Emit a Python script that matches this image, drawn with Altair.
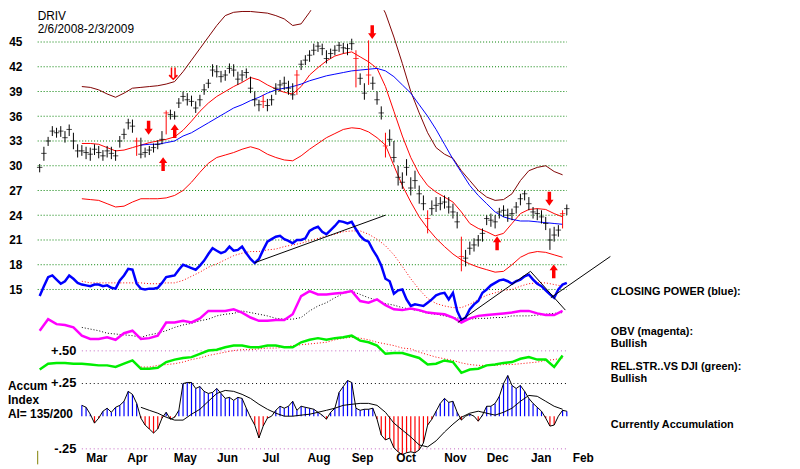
import altair as alt
import pandas as pd

TICKER = "DRIV"
PERIOD = "2/6/2008-2/3/2009"
FIRST_DAY = "2008-02-06"
LAST_DAY = "2009-02-03"

# daily bars sampled every 2nd session (price)
CLOSE = [29.8,31.5,33.0,34.2,34.0,34.2,33.4,34.4,33.0,31.8,
         31.8,31.6,31.4,32.0,31.6,31.2,31.8,31.5,31.2,33.0,
         33.8,35.2,34.8,33.0,31.4,31.6,31.9,32.2,32.6,33.2,
         36.4,36.2,36.0,37.6,38.4,38.0,37.8,37.0,38.0,39.2,
         40.0,41.6,41.4,40.8,41.0,41.8,41.6,40.5,41.0,41.3,
         39.4,38.0,37.4,37.8,37.3,38.0,39.4,39.8,40.0,39.4,
         38.6,41.0,42.3,42.8,43.4,44.0,44.5,44.2,43.0,43.6,
         44.0,44.6,44.3,44.2,44.8,43.0,40.6,38.8,41.0,40.0,
         38.0,36.4,32.4,33.2,31.0,28.6,28.0,29.8,27.3,28.2,
         26.6,25.4,23.6,24.8,25.2,25.4,25.6,25.0,24.4,23.2,
         19.0,18.8,20.0,20.4,21.0,21.8,23.6,23.4,23.2,24.4,
         24.6,24.0,24.2,25.0,26.0,26.6,25.4,24.4,24.2,23.8,
         23.0,21.0,21.6,22.2,24.2,24.8]
HIGH = [30.2,32.3,33.5,34.8,34.6,34.8,34.2,35.0,34.0,32.6,
        32.5,32.3,32.2,32.6,32.4,31.9,32.4,32.3,31.9,33.6,
        34.5,35.7,35.6,33.4,33.4,32.2,32.4,32.7,33.1,34.2,
        36.7,36.8,36.6,38.2,39.0,38.8,38.5,37.8,38.6,39.9,
        40.5,42.3,42.2,41.5,41.6,42.4,42.3,41.4,41.6,41.8,
        40.8,39.0,38.0,38.6,38.1,38.6,40.0,40.4,40.8,40.3,
        40.0,41.6,42.8,43.4,44.0,44.8,45.0,44.8,44.0,44.2,
        44.6,45.0,44.9,44.8,45.4,44.0,41.2,40.0,45.2,40.8,
        39.0,37.2,34.0,34.4,33.0,30.0,29.2,30.8,28.6,29.4,
        27.6,26.4,24.6,25.8,26.2,26.2,26.4,26.2,25.4,24.4,
        21.4,19.8,20.8,21.2,21.6,22.4,24.0,24.2,24.0,24.9,
        25.2,24.8,24.8,25.6,26.6,27.0,26.2,25.0,24.8,24.6,
        23.8,22.4,22.6,22.8,24.6,25.3]
LOW = [29.2,30.6,32.4,33.6,33.4,33.5,32.8,33.6,32.0,31.0,
       31.2,30.8,30.6,31.3,30.9,30.6,31.0,30.8,30.6,32.2,
       33.2,34.4,34.0,31.2,30.9,31.0,31.3,31.6,32.0,32.6,
       33.8,35.6,35.6,37.0,37.8,37.3,37.2,36.4,37.2,38.6,
       39.4,40.8,40.7,40.1,40.3,41.2,40.8,39.8,40.2,40.6,
       38.8,37.2,36.6,37.0,36.6,37.3,38.6,39.0,39.2,38.6,
       38.0,38.6,41.6,42.2,42.6,43.4,43.8,43.4,42.4,43.0,
       43.4,43.8,43.6,43.4,44.0,39.5,39.8,38.0,39.8,39.2,
       37.4,35.6,31.0,32.4,30.4,27.6,27.2,28.8,26.4,27.2,
       25.4,24.6,21.8,24.0,24.4,24.6,24.8,24.2,23.6,22.4,
       17.2,17.8,19.2,19.6,20.2,20.8,22.8,22.6,22.4,23.6,
       23.8,23.2,23.4,24.2,25.2,25.8,24.6,23.6,23.4,23.0,
       22.2,19.8,20.8,21.4,22.4,24.0]
RED_BARS = [23, 30, 53, 61, 75, 78, 82, 92, 100, 124]

# smooth series, every 4th session
UPPER_BAND = [None]*5 + [39.6,39.5,39.2,38.7,38.3,38.8,39.4,39.5,39.6,39.7,
    39.9,40.2,41.4,42.8,44.2,45.6,47.0,48.2,48.6,48.7,48.7,48.6,48.5,48.2,47.8,
    47.0,47.2,48.6,50.2,51.5,52.5,53.0,53.0,52.5,51.5,50.5,48.5,45.6,42.4,39.0,
    36.4,34.0,32.2,31.4,30.9,29.4,28.2,27.0,26.2,25.8,25.9,26.6,28.2,29.4,29.8,
    30.0,29.3,28.9]
MID_BAND = [None]*5 + [32.7,32.7,32.6,32.2,31.8,31.9,32.2,32.5,32.8,33.0,
    33.2,33.5,34.3,35.4,36.6,37.6,38.4,39.0,39.6,40.1,40.7,40.4,39.8,39.3,38.9,
    38.7,39.6,41.0,41.9,42.7,43.3,43.6,43.8,43.2,42.6,41.8,39.6,36.6,33.6,31.0,
    29.0,27.6,26.8,26.2,25.6,24.4,23.0,22.4,22.0,21.5,21.8,23.0,24.2,24.7,24.8,
    24.7,24.2,23.8]
LOWER_BAND = [None]*5 + [26.0,25.9,25.8,25.4,25.0,25.1,25.6,26.0,26.0,26.0,
    26.1,26.4,27.0,28.0,29.2,30.3,31.0,31.3,31.6,32.0,32.3,32.0,31.4,31.0,30.7,
    30.6,31.2,32.0,32.7,33.4,33.9,34.4,34.6,34.5,34.1,33.4,32.5,30.0,27.6,25.6,
    23.8,22.4,21.2,20.2,19.3,18.6,18.1,17.7,17.4,17.1,17.2,18.0,18.9,19.4,19.6,
    19.5,19.2,18.9]
MA50 = [None]*12 + [32.5,32.6,32.6,32.8,33.0,33.6,34.0,34.6,35.2,35.8,
    36.4,37.0,37.4,37.9,38.3,38.8,39.2,39.4,39.6,39.9,40.3,40.6,40.9,41.1,41.3,
    41.5,41.6,41.7,41.8,41.5,40.8,39.8,38.8,37.4,36.0,34.4,32.6,30.8,29.2,27.6,
    26.4,25.4,24.4,23.8,23.5,23.3,23.3,23.2,23.1,23.0,22.9]

# Closing Power (blue), drawn in the price panel's units, every 2nd session
CP = [14.2,15.4,16.5,16.7,16.2,15.7,16.0,16.7,16.3,15.8,
      15.6,15.5,15.4,15.6,15.6,15.4,15.5,15.2,15.1,16.1,
      16.7,17.5,17.4,15.7,15.1,15.0,15.1,15.1,15.2,15.8,
      16.5,16.6,16.7,17.4,18.0,17.8,17.6,17.4,17.9,18.5,
      19.3,20.0,19.7,19.4,19.6,20.2,19.7,19.8,20.2,19.4,
      18.7,18.2,18.7,19.8,20.8,21.1,21.4,21.5,21.1,20.9,
      20.6,21.0,21.0,21.2,22.1,22.4,22.6,22.0,21.7,22.2,
      22.7,23.3,23.2,23.0,23.2,22.3,21.5,21.0,20.8,19.8,
      19.0,17.9,16.3,16.0,14.5,14.9,15.0,13.8,13.0,13.2,
      13.1,13.0,13.4,13.8,14.3,14.5,14.6,13.8,14.6,12.4,
      11.3,11.6,12.6,13.2,13.6,14.6,15.0,15.5,15.8,16.1,
      16.2,16.0,15.7,16.0,16.2,16.6,16.8,16.2,15.7,15.4,
      14.9,14.4,14.0,15.0,15.6,15.8]
CP_MA = [None]*5 + [16.0,15.8,15.8,15.8,15.8,15.8,15.8,15.8,15.7,15.7,
    15.8,15.8,16.1,16.6,17.1,17.7,18.1,18.6,19.1,19.4,19.6,19.6,19.8,19.9,20.2,
    20.4,20.6,20.9,21.2,21.5,21.7,22.0,22.1,22.1,21.7,21.1,20.3,19.2,17.8,16.3,
    15.0,13.9,13.3,13.0,12.8,12.8,13.2,13.8,14.3,14.6,14.9,15.0,15.4,15.7,15.8,
    15.8,15.6,15.4]
OBV = [10.0,11.4,10.8,10.7,10.4,9.4,9.0,9.0,9.2,8.9,9.7,10.0,9.0,9.1,9.4,
       11.0,11.0,11.2,11.0,11.5,12.4,12.4,12.4,12.6,12.2,11.6,11.2,11.2,11.3,11.3,
       12.0,14.2,14.8,14.4,14.4,14.5,14.6,14.8,13.6,13.4,13.8,13.1,12.6,12.5,12.7,
       12.5,12.2,12.1,12.0,11.6,11.0,11.5,11.8,11.9,12.0,12.1,12.2,12.4,12.4,12.1,
       11.9,11.9,12.4]
OBV_MA = [None]*5 + [10.4,10.2,10.0,9.7,9.6,9.5,9.4,9.2,9.5,9.7,
    10.0,10.4,10.7,10.9,11.2,11.4,11.8,12.0,12.1,12.4,12.2,12.0,11.8,11.5,11.4,
    11.4,11.6,12.4,13.0,13.4,14.0,14.5,14.8,14.4,14.0,13.7,13.3,13.1,12.8,12.6,
    12.4,12.1,12.0,11.8,11.6,11.5,11.4,11.5,11.5,11.6,11.6,11.8,11.8,11.8,11.9,
    12.0,12.1,12.2]
RS = [5.3,6.0,6.1,6.1,6.0,6.0,5.9,5.8,5.8,5.6,6.0,6.4,5.4,5.4,5.5,
      6.2,6.5,6.7,6.8,7.2,7.6,7.7,8.0,8.2,8.2,8.0,8.0,8.2,8.2,8.0,
      8.0,8.6,8.9,9.1,8.9,9.1,9.2,9.4,8.8,8.6,8.2,7.2,7.3,7.3,7.0,
      6.7,5.9,6.0,6.4,6.2,4.9,5.3,5.4,5.8,5.9,6.1,6.2,6.6,6.8,6.5,
      6.5,5.6,7.0]
RS_MA = [None]*12 + [5.6,5.6,5.8,5.9,6.0,6.2,6.5,6.7,7.0,7.2,
    7.4,7.6,7.7,7.7,7.8,7.9,7.9,8.0,8.2,8.3,8.4,8.5,8.6,8.9,9.1,
    9.2,9.1,8.9,8.6,8.4,8.2,7.9,7.8,7.4,7.1,6.8,6.6,6.4,6.1,5.9,
    5.8,5.8,5.8,5.9,5.9,6.0,6.1,6.2,6.4,6.5,6.7]
# Accumulation index, every 2nd session
AI = [None]*10 + [0.083,0.068,0.015,-0.053,-0.015,0.038,0.061,0.030,0.068,0.083,
      0.114,0.190,0.167,0.098,-0.015,-0.068,-0.098,-0.129,-0.098,-0.015,
      0.030,-0.023,-0.008,0.045,0.250,0.258,0.258,0.212,0.227,0.190,
      0.174,0.182,0.212,0.174,0.136,0.144,0.121,0.144,0.136,0.061,
      -0.008,-0.068,-0.167,-0.076,-0.015,0.000,0.045,0.076,0.061,0.076,
      0.114,0.045,0.076,0.068,0.061,0.053,0.030,0.008,-0.023,0.030,
      0.061,0.182,0.227,0.273,0.258,0.061,0.045,0.053,0.053,0.061,
      -0.023,-0.144,-0.182,-0.167,-0.242,-0.273,-0.295,-0.280,-0.273,-0.280,
      -0.258,-0.205,-0.068,-0.023,0.038,0.098,0.136,0.106,0.114,0.030,
      -0.030,0.000,0.015,0.000,-0.038,0.008,0.076,0.076,0.098,0.152,
      0.250,0.311,0.235,0.212,0.235,0.190,0.136,0.098,0.068,0.038,
      -0.015,-0.076,-0.068,0.000,0.045,0.038]
AI_MA = [None]*12 + [0.068,0.045,0.023,-0.008,-0.030,-0.030,0.015,0.053,0.114,0.174,
    0.197,0.190,0.167,0.136,0.091,0.053,0.023,0.000,0.000,0.008,0.015,0.030,0.045,
    0.061,0.083,0.091,0.098,0.098,0.083,0.030,-0.053,-0.106,-0.159,-0.220,-0.235,
    -0.189,-0.121,-0.061,-0.008,0.023,0.038,0.023,0.008,0.030,0.061,0.114,0.159,
    0.152,0.114,0.076,0.053]

PRICE_GRID = [45, 42, 39, 36, 33, 30, 27, 24, 21, 18, 15]
AI_GRID = [0.50, 0.25, -0.25]
AI_GRID_LABELS = ["+.50", "+.25", "-.25"]
AI_GRID_COLORS = ["#c060c0", "#000000", "#c060c0"]

MONTH_TICKS = ["2008-03-16", "2008-04-13", "2008-05-16", "2008-06-14", "2008-07-14",
               "2008-08-16", "2008-09-15", "2008-10-15", "2008-11-18", "2008-12-17",
               "2009-01-16", "2009-02-14"]

TRENDS = [("a", "2008-07-03", 18.24), ("a", "2008-10-01", 24.0),
          ("b", "2009-01-23", 14.0), ("b", "2009-03-05", 19.0),
          ("c", "2008-11-20", 11.0), ("c", "2009-01-09", 17.2),
          ("d", "2009-01-09", 17.2), ("d", "2009-02-02", 12.5)]

ARROWS = [("2008-04-21", 34.6, "down"), ("2008-05-01", 30.2, "up"),
          ("2008-05-09", 34.2, "up"), ("2008-09-22", 46.2, "down"),
          ("2008-12-17", 20.6, "up"), ("2009-01-22", 26.0, "down"),
          ("2009-01-25", 17.2, "up")]
DOUBLE_ARROWS = [("2008-05-08", 41.2)]

RIGHT_NOTES = [("CLOSING POWER (blue):", 288), ("OBV (magenta):", 328), ("Bullish", 340),
               ("REL.STR..VS DJI (green):", 363), ("Bullish", 375),
               ("Currently Accumulation", 422)]
LEFT_NOTES = [("Accum", 384), ("Index", 398), ("AI= 135/200", 412)]

# ---------------- layout ----------------
FONT = "Liberation Sans"
W, H = 754, 445
PX_PER_DAY = 532.5 / 363.0
FIRST_BAR_OFFSET = 2.0
YMAX, YMIN = 48.84, -4.56
AI_ZERO, AI_SCALE = -0.36, 15.84

DAY_MS = 86400000
def ms(s):
    return int(pd.Timestamp(s).value // 10**6)
def iso(ts):
    return pd.Timestamp(ts).strftime("%Y-%m-%dT%H:%M:%SZ")

x_start = ms(FIRST_DAY) - FIRST_BAR_OFFSET / PX_PER_DAY * DAY_MS
x_end = x_start + W / PX_PER_DAY * DAY_MS

XS = alt.Scale(type="utc", domain=[x_start, x_end], nice=False)
YS = alt.Scale(domain=[YMIN, YMAX], nice=False, zero=False)
XAX = alt.Axis(values=[ms(d) for d in MONTH_TICKS], labelExpr="utcFormat(datum.value, '%b')",
               labelFont=FONT, labelFontSize=12, labelFontWeight="bold", labelColor="black",
               domain=False, ticks=False, tickSize=0, grid=False, labelPadding=2,
               title=None, labelFlush=False, labelOverlap=False)
YAX = alt.Axis(values=PRICE_GRID, labelFont=FONT, labelFontSize=12, labelFontWeight="bold",
               labelColor="black", domain=False, ticks=False, tickSize=0, grid=False,
               labelPadding=16, title=None)

def X(f):
    return alt.X(f, type="temporal", scale=XS, axis=XAX)
def Y(f):
    return alt.Y(f, type="quantitative", scale=YS, axis=YAX)

dates = pd.date_range(FIRST_DAY, LAST_DAY, periods=len(CLOSE))
d1 = [iso(d) for d in dates]
d2 = d1[::2]

bars = pd.DataFrame({"date": d1, "close": CLOSE, "high": HIGH, "low": LOW,
                     "col": ["#ff0000" if i in RED_BARS else "#000000" for i in range(len(CLOSE))]})

def series(dts, vals):
    return pd.DataFrame({"date": dts, "v": vals}).dropna()

layers = []

# grid lines
pg = pd.DataFrame({"p": PRICE_GRID, "x0": iso(pd.Timestamp(x_start, unit="ms")), "x1": d1[-1]})
layers.append(alt.Chart(pg).mark_rule(color="#008000", strokeDash=[1, 2], strokeWidth=1)
              .encode(x=X("x0"), x2="x1", y=Y("p")))
ai_start = d1[next(i for i, v in enumerate(AI) if v is not None)]
ag = pd.DataFrame({"a": AI_GRID, "lab": AI_GRID_LABELS, "c": AI_GRID_COLORS,
                   "x0": ai_start, "x1": d1[-1]})
agc = alt.Chart(ag).transform_calculate(p=f"{AI_ZERO} + {AI_SCALE} * datum.a")
layers.append(agc.mark_rule(strokeDash=[1, 3], strokeWidth=1)
              .encode(x=X("x0"), x2="x1", y=Y("p"), color=alt.Color("c:N", scale=None)))
layers.append(agc.mark_text(font=FONT, fontSize=13, fontWeight="bold", align="right",
                            baseline="middle", color="black")
              .encode(x=alt.value(39), y=Y("p"), text="lab:N"))

def line(dts, vals, color, width=1, dash=None, clip=False):
    kw = dict(color=color, strokeWidth=width, clip=clip)
    if dash:
        kw["strokeDash"] = dash
    return alt.Chart(series(dts, vals)).mark_line(**kw).encode(x=X("date"), y=Y("v"))

layers.append(line(d2, UPPER_BAND, "#800000", clip=True))
layers.append(line(d2, LOWER_BAND, "#ff0000"))
layers.append(line(d2, MID_BAND, "#ff0000"))
layers.append(line(d2, MA50, "#0000ff"))

# indicators
layers.append(line(d2, CP_MA, "#ff0000", dash=[1, 2]))
layers.append(line(d1, CP, "#0000ff", width=2.5))
layers.append(line(d2, OBV_MA, "#000000", dash=[1, 2]))
layers.append(line(d2, OBV, "#ff00ff", width=2.5))
layers.append(line(d2, RS_MA, "#ff0000", dash=[1, 2]))
layers.append(line(d2, RS, "#00ee00", width=2.5))

# accumulation index histogram
aidf = series(d1, AI).rename(columns={"v": "ai"})
aic = alt.Chart(aidf).transform_calculate(
    base=f"{AI_ZERO}", top=f"{AI_ZERO} + {AI_SCALE} * datum.ai",
    c="datum.ai >= 0 ? '#0000ff' : '#ff0000'")
layers.append(aic.mark_rule(strokeWidth=1.2)
              .encode(x=X("date"), y=Y("base"), y2="top", color=alt.Color("c:N", scale=None)))
layers.append(aic.mark_line(color="#000000", strokeWidth=1).encode(x=X("date"), y=Y("top")))
aima = series(d2, AI_MA).rename(columns={"v": "ai"})
layers.append(alt.Chart(aima).transform_calculate(top=f"{AI_ZERO} + {AI_SCALE} * datum.ai")
              .mark_line(color="#000000", strokeWidth=1).encode(x=X("date"), y=Y("top")))

# trend lines
tr = pd.DataFrame(TRENDS, columns=["id", "date", "v"])
tr["date"] = [iso(d) for d in tr["date"]]
layers.append(alt.Chart(tr).mark_line(color="#000000", strokeWidth=1)
              .encode(x=X("date"), y=Y("v"), detail="id:N"))

# price bars
layers.append(alt.Chart(bars).mark_rule(strokeWidth=1)
              .encode(x=X("date"), y=Y("low"), y2="high", color=alt.Color("col:N", scale=None)))
layers.append(alt.Chart(bars).mark_point(shape="M-1,0L1,0", size=30, filled=False, strokeWidth=1)
              .encode(x=X("date"), y=Y("close"), color=alt.Color("col:N", scale=None)))

# signal arrows
DOWN = "M-0.25,-1L0.25,-1L0.25,0.15L0.6,0.15L0,1L-0.6,0.15L-0.25,0.15Z"
UP = "M-0.25,1L0.25,1L0.25,-0.15L0.6,-0.15L0,-1L-0.6,-0.15L-0.25,-0.15Z"
ar = pd.DataFrame(ARROWS, columns=["date", "v", "dir"])
ar["date"] = [iso(d) for d in ar["date"]]
ar["shape"] = [DOWN if d == "down" else UP for d in ar["dir"]]
layers.append(alt.Chart(ar).mark_point(filled=True, color="#ff0000", size=196, opacity=1, strokeWidth=0)
              .encode(x=X("date"), y=Y("v"), shape=alt.Shape("shape:N", scale=None)))
da = pd.DataFrame(DOUBLE_ARROWS, columns=["date", "v"])
da["date"] = [iso(d) for d in da["date"]]
layers.append(alt.Chart(da).mark_point(shape="M-0.3,-1L-0.3,0.7M0.3,-1L0.3,0.7M-0.7,0.3L0,1L0.7,0.3",
                                       filled=False, color="#ff0000", size=144, strokeWidth=1.5, opacity=1)
              .encode(x=X("date"), y=Y("v")))

# small marker at lower left
mk = pd.DataFrame({"date": [iso(pd.Timestamp(x_start, unit="ms"))], "y0": [YMIN], "y1": [-6.2]})
layers.append(alt.Chart(mk).mark_rule(color="#808000", strokeWidth=1)
              .encode(x=X("date"), y=Y("y0"), y2="y1"))

# texts
def note(txt, x, y, size=12, weight="bold"):
    return alt.Chart(pd.DataFrame({"t": [txt]})).mark_text(
        font=FONT, fontSize=size, fontWeight=weight, align="left", baseline="alphabetic",
        color="black").encode(x=alt.value(x), y=alt.value(y), text="t:N")

layers.append(note(TICKER, 0, 10, 12, "normal"))
layers.append(note(PERIOD, 0, 23, 12, "normal"))
for t, y in RIGHT_NOTES:
    layers.append(note(t, 579, y, 11))
for t, y in LEFT_NOTES:
    layers.append(note(t, -30, y, 12))

chart = alt.layer(*layers).properties(
    width=W, height=H, background="white",
    autosize=alt.AutoSizeParams(type="none"),
    padding={"left": 30, "top": 0, "right": 8, "bottom": 16},
).configure_view(stroke=None)

chart.save("out.html", embed_options={"renderer": "svg", "actions": False})
